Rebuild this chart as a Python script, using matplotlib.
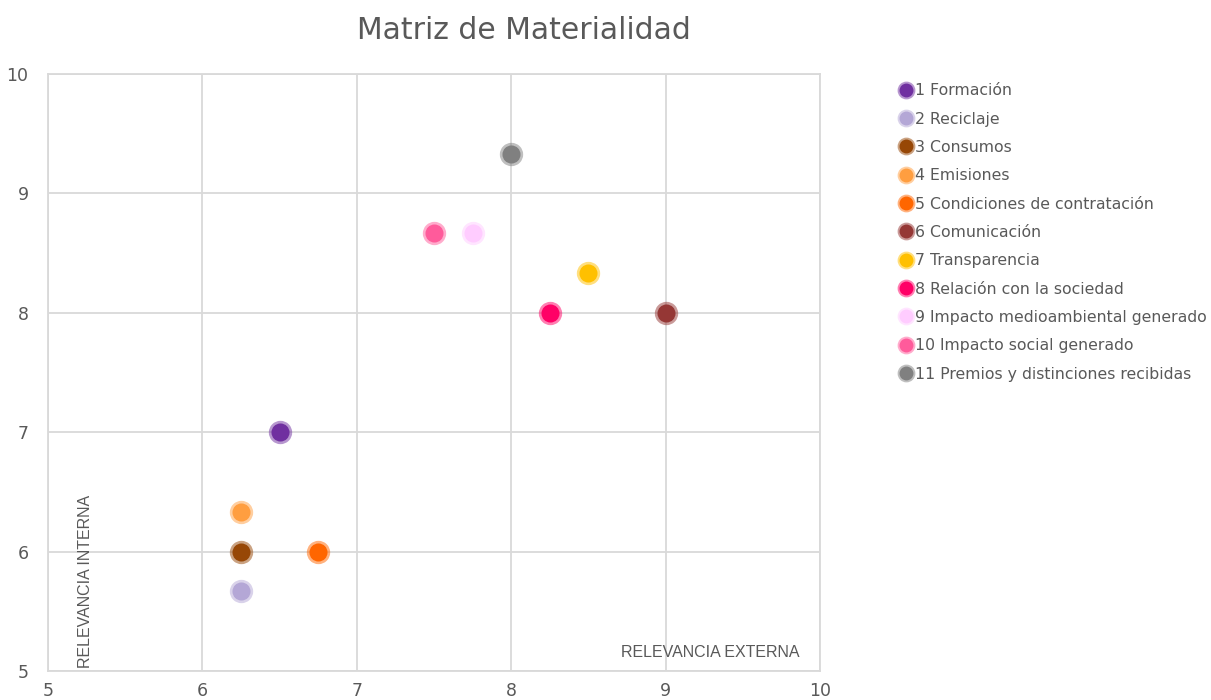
import matplotlib
matplotlib.use("Agg")
import matplotlib.pyplot as plt
from matplotlib.colors import to_rgba

# data
labels = ["1 Formación", "2 Reciclaje", "3 Consumos", "4 Emisiones",
          "5 Condiciones de contratación", "6 Comunicación", "7 Transparencia",
          "8 Relación con la sociedad", "9 Impacto medioambiental generado",
          "10 Impacto social generado", "11 Premios y distinciones recibidas"]
externa = [6.5, 6.25, 6.25, 6.25, 6.75, 9.0, 8.5, 8.25, 7.75, 7.5, 8.0]
interna = [7.0, 5.67, 6.0, 6.33, 6.0, 8.0, 8.33, 8.0, 8.67, 8.67, 9.33]
colors = ["#7030A0", "#B4A7D6", "#974706", "#FF9E40", "#FF6600", "#953735",
          "#FFC000", "#FF0066", "#FFCCFF", "#FF5B9B", "#808080"]
x_ticks = [5, 6, 7, 8, 9, 10]
y_ticks = [5, 6, 7, 8, 9, 10]

plt.rcParams["font.family"] = ["DejaVu Sans"]
TXT = "#595959"
GRID = "#D9D9D9"

fig = plt.figure(figsize=(12.11, 7), dpi=100)
ax = fig.add_axes([0.0396, 0.0414, 0.6375, 0.8529])

for x, y, c, lbl in zip(externa, interna, colors, labels):
    ax.plot([x], [y], "o", markersize=13, markerfacecolor=c,
            markeredgecolor=to_rgba(c, 0.5), markeredgewidth=3.8,
            linestyle="none", label=lbl, zorder=3)

ax.set_xlim(5, 10)
ax.set_ylim(5, 10)
ax.set_xticks(x_ticks)
ax.set_yticks(y_ticks)
ax.grid(color=GRID, linewidth=1.3, zorder=0)
for s in ax.spines.values():
    s.set_color(GRID)
    s.set_linewidth(1.3)
ax.tick_params(length=0, labelsize=12.5, colors=TXT, pad=8)
ax.tick_params(axis="y", pad=14)

ax.text(0.742, 0.023, "RELEVANCIA EXTERNA", transform=ax.transAxes,
        fontsize=11.5, color=TXT, family=["Liberation Sans", "DejaVu Sans"])
ax.text(0.048, 0.005, "RELEVANCIA INTERNA", transform=ax.transAxes, rotation=90,
        fontsize=11.5, color=TXT, va="bottom", ha="center",
        family=["Liberation Sans", "DejaVu Sans"])

fig.text(0.433, 0.957, "Matriz de Materialidad", ha="center", va="center",
         fontsize=21.5, color=TXT)

leg = ax.legend(loc="upper left", bbox_to_anchor=(1.097, 0.995), frameon=False,
                fontsize=11.3, handlelength=0.6, handletextpad=0.3,
                labelspacing=0.85, borderaxespad=0)
for t in leg.get_texts():
    t.set_color(TXT)
for h in leg.legend_handles:
    h.set_markersize(10)
    h.set_markeredgewidth(2.8)

fig.savefig("out.png", dpi=100)
